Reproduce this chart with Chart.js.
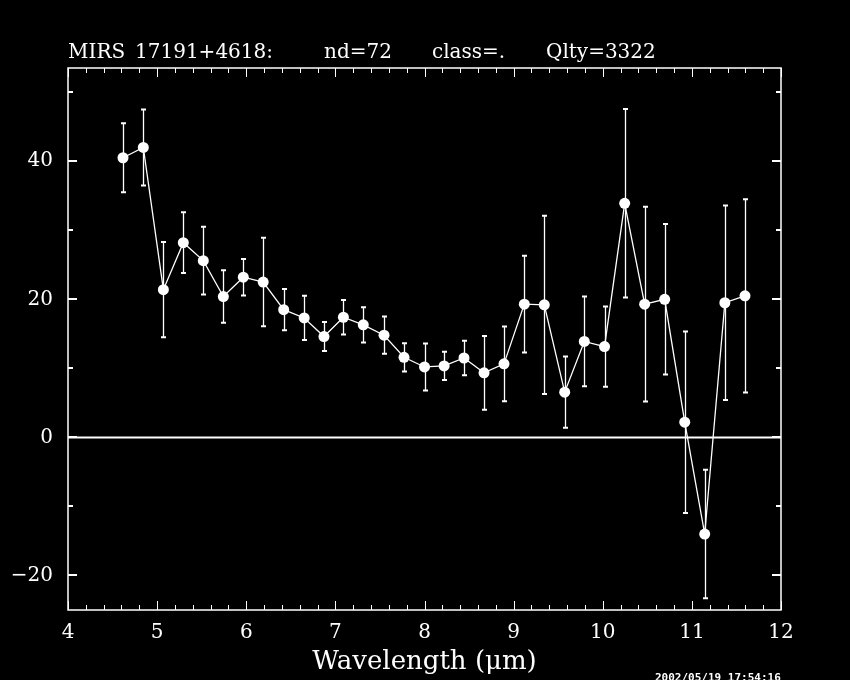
<!DOCTYPE html>
<html>
<head>
<meta charset="utf-8">
<script src="https://cdn.jsdelivr.net/npm/chart.js@4/dist/chart.umd.min.js"></script>
<style>
    html, body { margin: 0; padding: 0; background: #000; }
    #wrap { width: 850px; height: 680px; }
</style>
</head>
<body>
<div id="wrap"><canvas id="spectrum" width="850" height="680"></canvas></div>
<script>
// wavelength (um), flux and 1-sigma errors
const wavelengths = [4.617, 4.845, 5.07, 5.294, 5.518, 5.743, 5.967, 6.19, 6.42, 6.65, 6.872,
    7.09, 7.313, 7.546, 7.77, 8.0, 8.22, 8.443, 8.668, 8.892, 9.12, 9.344, 9.573,
    9.793, 10.02, 10.246, 10.47, 10.695, 10.92, 11.144, 11.37, 11.596];
const fluxes = [40.5, 42.0, 21.4, 28.2, 25.6, 20.4, 23.2, 22.5, 18.5, 17.3, 14.6,
    17.4, 16.3, 14.8, 11.6, 10.2, 10.35, 11.5, 9.35, 10.65, 19.3, 19.2, 6.55,
    13.9, 13.15, 33.9, 19.3, 20.0, 2.2, -14.0, 19.5, 20.5];
const errors = [5.0, 5.5, 6.9, 4.4, 4.9, 3.8, 2.65, 6.4, 3.0, 3.2, 2.1,
    2.5, 2.55, 2.7, 2.05, 3.4, 2.05, 2.5, 5.35, 5.4, 7.0, 12.9, 5.15,
    6.5, 5.8, 13.65, 14.1, 10.9, 13.15, 9.3, 14.1, 14.0];

const xRange = [4, 12];
const yRange = [-25, 53.5];
const titleParts = ['MIRS', '17191+4618:', 'nd=72', 'class=.', 'Qlty=3322'];
const titleOffsets = [68, 135, 324, 432, 546];
const stamp = '2002/05/19 17:54:16';

const serif = 'DejaVu Serif';

const points = wavelengths.map(function (w, i) {
    return { x: w, y: fluxes[i] };
});

// black page, title and time stamp
const decorPlugin = {
    id: 'decor',
    beforeDraw: function (chart) {
        const ctx = chart.ctx;
        ctx.save();
        ctx.fillStyle = '#000';
        ctx.fillRect(0, 0, chart.width, chart.height);
        ctx.restore();
    },
    afterDraw: function (chart) {
        const ctx = chart.ctx;
        ctx.save();
        ctx.fillStyle = '#fff';
        ctx.textBaseline = 'alphabetic';
        ctx.font = '20px "' + serif + '"';
        titleParts.forEach(function (t, i) {
            ctx.fillText(t, titleOffsets[i], 58);
        });
        ctx.font = 'bold 11px "DejaVu Sans Mono"';
        ctx.textBaseline = 'top';
        ctx.fillText(stamp, 655, 673);
        ctx.restore();
    }
};

// frame, inward ticks on all four sides, zero line and error bars
const framePlugin = {
    id: 'frame',
    beforeDatasetsDraw: function (chart) {
        const ctx = chart.ctx;
        const a = chart.chartArea;
        const xs = chart.scales.x;
        const ys = chart.scales.y;
        ctx.save();
        ctx.strokeStyle = '#fff';

        ctx.lineWidth = 1.5;
        ctx.strokeRect(a.left, a.top, a.right - a.left, a.bottom - a.top);

        xs.ticks.forEach(function (t) {
            const px = Math.round(xs.getPixelForValue(t.value)) + 0.5;
            const major = Math.abs(t.value - Math.round(t.value)) < 1e-6;
            const len = major ? 9 : 5;
            ctx.lineWidth = 1;
            ctx.beginPath();
            ctx.moveTo(px, a.bottom);
            ctx.lineTo(px, a.bottom - len);
            ctx.moveTo(px, a.top);
            ctx.lineTo(px, a.top + len);
            ctx.stroke();
        });

        ys.ticks.forEach(function (t) {
            if (t.value % 10 !== 0) return;
            const py = Math.round(ys.getPixelForValue(t.value));
            const len = t.value % 20 === 0 ? 9 : 5;
            ctx.lineWidth = 2;
            ctx.beginPath();
            ctx.moveTo(a.left, py);
            ctx.lineTo(a.left + len, py);
            ctx.moveTo(a.right, py);
            ctx.lineTo(a.right - len, py);
            ctx.stroke();
        });

        // zero line
        const y0 = ys.getPixelForValue(0);
        ctx.lineWidth = 2;
        ctx.beginPath();
        ctx.moveTo(a.left, y0);
        ctx.lineTo(a.right, y0);
        ctx.stroke();

        // error bars
        wavelengths.forEach(function (w, i) {
            const px = Math.round(xs.getPixelForValue(w)) + 0.5;
            const top = ys.getPixelForValue(fluxes[i] + errors[i]);
            const bot = ys.getPixelForValue(fluxes[i] - errors[i]);
            ctx.lineWidth = 1.3;
            ctx.beginPath();
            ctx.moveTo(px, top);
            ctx.lineTo(px, bot);
            ctx.stroke();
            ctx.lineWidth = 2;
            ctx.beginPath();
            ctx.moveTo(px - 2.5, top);
            ctx.lineTo(px + 2.5, top);
            ctx.moveTo(px - 2.5, bot);
            ctx.lineTo(px + 2.5, bot);
            ctx.stroke();
        });
        ctx.restore();
    }
};

new Chart(document.getElementById('spectrum').getContext('2d'), {
    type: 'line',
    data: {
        datasets: [{
            label: 'MIRS 17191+4618',
            data: points,
            borderColor: '#fff',
            borderWidth: 1.3,
            backgroundColor: '#fff',
            pointBackgroundColor: '#fff',
            pointBorderColor: '#fff',
            pointRadius: 5.5,
            pointBorderWidth: 0,
            tension: 0
        }]
    },
    options: {
        responsive: false,
        animation: false,
        devicePixelRatio: 1,
        layout: {
            padding: { top: 68, right: 69, left: 0, bottom: 0 }
        },
        plugins: {
            legend: { display: false },
            tooltip: { enabled: false }
        },
        scales: {
            x: {
                type: 'linear',
                min: xRange[0],
                max: xRange[1],
                grid: { display: false },
                border: { display: false },
                afterFit: function (scale) { scale.height = 70; },
                ticks: {
                    stepSize: 0.2,
                    autoSkip: false,
                    maxRotation: 0,
                    padding: 3,
                    color: '#fff',
                    font: { family: serif, size: 20 },
                    callback: function (value) {
                        const r = Math.round(value);
                        return Math.abs(value - r) < 1e-6 ? String(r) : '';
                    }
                },
                title: {
                    display: true,
                    text: 'Wavelength (\u03bcm)',
                    color: '#fff',
                    font: { family: serif, size: 26 },
                    padding: { top: 0, bottom: 2 }
                }
            },
            y: {
                type: 'linear',
                min: yRange[0],
                max: yRange[1],
                grid: { display: false },
                border: { display: false },
                afterFit: function (scale) { scale.width = 68; },
                ticks: {
                    stepSize: 10,
                    autoSkip: false,
                    padding: 7,
                    color: '#fff',
                    font: { family: serif, size: 20 },
                    callback: function (value) {
                        if (value % 20 !== 0) return '';
                        return value < 0 ? '\u2212' + Math.abs(value) : String(value);
                    }
                }
            }
        }
    },
    plugins: [decorPlugin, framePlugin]
});
</script>
</body>
</html>
